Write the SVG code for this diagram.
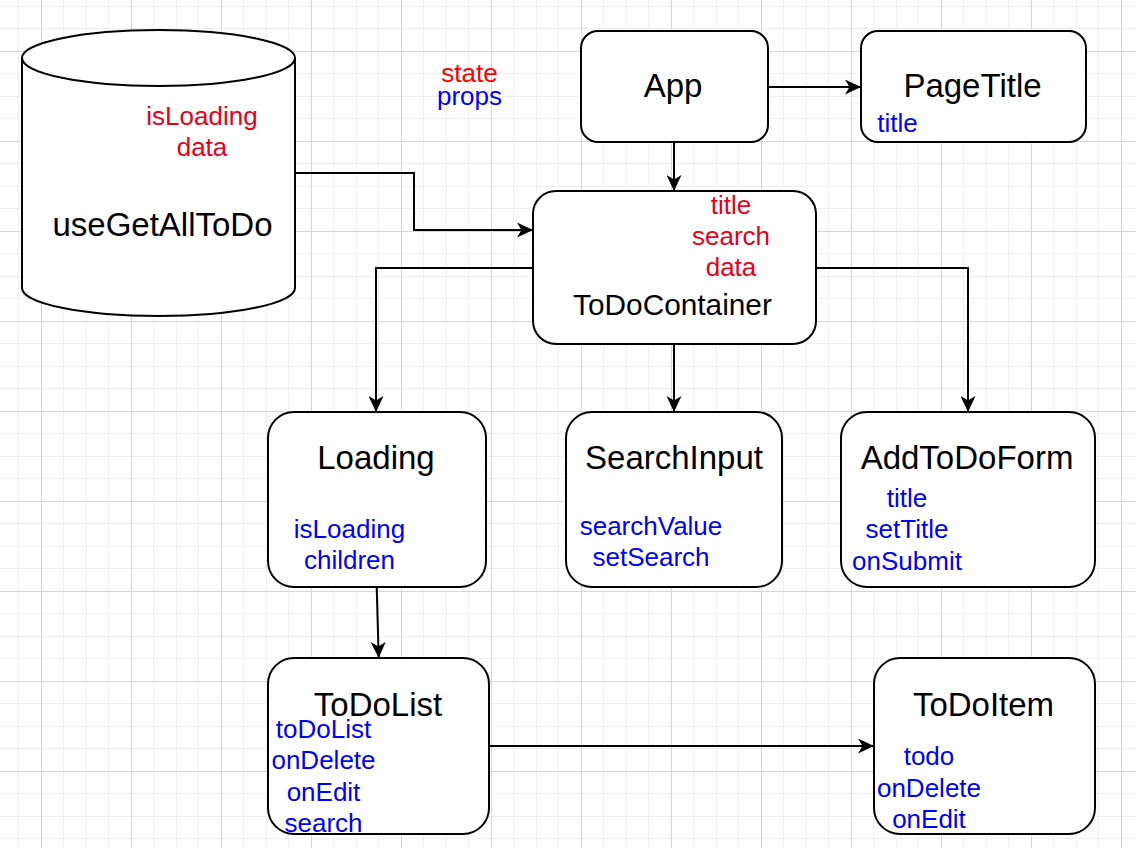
<svg xmlns="http://www.w3.org/2000/svg" width="1136" height="848" viewBox="0 0 1136 848">
<defs>
<pattern id="grid" patternUnits="userSpaceOnUse" x="41" y="51" width="90" height="90">
<rect x="0" y="0" width="90" height="90" fill="#ffffff"/>
<rect x="22" y="0" width="1" height="90" fill="#efefef"/>
<rect x="45" y="0" width="1" height="90" fill="#efefef"/>
<rect x="67" y="0" width="1" height="90" fill="#efefef"/>
<rect x="0" y="22" width="90" height="1" fill="#efefef"/>
<rect x="0" y="45" width="90" height="1" fill="#efefef"/>
<rect x="0" y="67" width="90" height="1" fill="#efefef"/>
<rect x="0" y="0" width="1" height="90" fill="#d6d6d6"/>
<rect x="0" y="0" width="90" height="1" fill="#d6d6d6"/>
</pattern>
<marker id="arrow" markerUnits="userSpaceOnUse" markerWidth="16" markerHeight="15" refX="16" refY="7.5" orient="auto" viewBox="0 0 16 15">
<path d="M0,0 L16,7.5 L0,15 L4.5,7.5 Z" fill="#000000"/>
</marker>
</defs>
<style>
.box{fill:#ffffff;stroke:#000000;stroke-width:2}
.edge{fill:none;stroke:#000000;stroke-width:2;marker-end:url(#arrow)}
.t{font-family:"Liberation Sans",Arial,sans-serif;text-anchor:middle;fill:#000000}
.big{font-size:33px}
.mid{font-size:29.8px}
.sm{font-size:26px}
.red{fill:#e6001c}
.red2{fill:#ff0000}
.blue{fill:#0000ff}
</style>
<rect x="0" y="0" width="1136" height="848" fill="url(#grid)"/>

<g id="connectors">
<path class="edge" d="M768,87 L861,87"/>
<path class="edge" d="M674,142 L674,191"/>
<path class="edge" d="M295,173 L414,173 L414,230 L533,230"/>
<path class="edge" d="M533,268 L376,268 L376,412"/>
<path class="edge" d="M674,344 L674,412"/>
<path class="edge" d="M816,268 L968,268 L968,412"/>
<path class="edge" d="M376.7,587 L378.7,658"/>
<path class="edge" d="M489,746 L874,746"/>
</g>

<g id="legend">
<text class="t sm red2" x="469.5" y="82">state</text>
<text class="t sm blue" x="469.5" y="105">props</text>
</g>

<g id="useGetAllToDo">
<path class="box" d="M22,58 A136.5,28 0 0 1 295,58 L295,288 A136.5,28 0 0 1 22,288 Z"/>
<path d="M22,58 A136.5,28 0 0 0 295,58" fill="none" stroke="#000000" stroke-width="2"/>
<text class="t sm red" x="202" y="125">isLoading</text>
<text class="t sm red" x="202" y="156">data</text>
<text class="t big" x="162.5" y="236">useGetAllToDo</text>
</g>

<g id="App">
<rect class="box" x="581" y="31" width="187" height="111" rx="17" ry="17"/>
<text class="t big" x="673" y="97">App</text>
</g>

<g id="PageTitle">
<rect class="box" x="861" y="31" width="225" height="111" rx="17" ry="17"/>
<text class="t big" x="972.5" y="97">PageTitle</text>
<text class="t sm blue" x="897.5" y="132">title</text>
</g>

<g id="ToDoContainer">
<rect class="box" x="533" y="191" width="283" height="153" rx="23" ry="23"/>
<text class="t sm red" x="731" y="214">title</text>
<text class="t sm red" x="731" y="245">search</text>
<text class="t sm red" x="731" y="276">data</text>
<text class="t mid" x="672.5" y="315">ToDoContainer</text>
</g>

<g id="Loading">
<rect class="box" x="268" y="412" width="218" height="175" rx="26" ry="26"/>
<text class="t big" x="376" y="469">Loading</text>
<text class="t sm blue" x="349.5" y="538">isLoading</text>
<text class="t sm blue" x="349.5" y="569">children</text>
</g>

<g id="SearchInput">
<rect class="box" x="566" y="412" width="216" height="175" rx="26" ry="26"/>
<text class="t big" x="674" y="469">SearchInput</text>
<text class="t sm blue" x="651" y="535">searchValue</text>
<text class="t sm blue" x="651" y="566">setSearch</text>
</g>

<g id="AddToDoForm">
<rect class="box" x="841" y="412" width="254" height="175" rx="26" ry="26"/>
<text class="t big" x="967" y="469">AddToDoForm</text>
<text class="t sm blue" x="907" y="507">title</text>
<text class="t sm blue" x="907" y="538">setTitle</text>
<text class="t sm blue" x="907" y="570">onSubmit</text>
</g>

<g id="ToDoList">
<rect class="box" x="268" y="658" width="221" height="176" rx="26" ry="26"/>
<text class="t big" x="378" y="716">ToDoList</text>
<text class="t sm blue" x="323.5" y="738">toDoList</text>
<text class="t sm blue" x="323.5" y="769">onDelete</text>
<text class="t sm blue" x="323.5" y="801">onEdit</text>
<text class="t sm blue" x="323.5" y="832">search</text>
</g>

<g id="ToDoItem">
<rect class="box" x="874" y="658" width="221" height="176" rx="26" ry="26"/>
<text class="t big" x="983.5" y="716">ToDoItem</text>
<text class="t sm blue" x="929" y="765">todo</text>
<text class="t sm blue" x="929" y="797">onDelete</text>
<text class="t sm blue" x="929" y="828">onEdit</text>
</g>
</svg>
